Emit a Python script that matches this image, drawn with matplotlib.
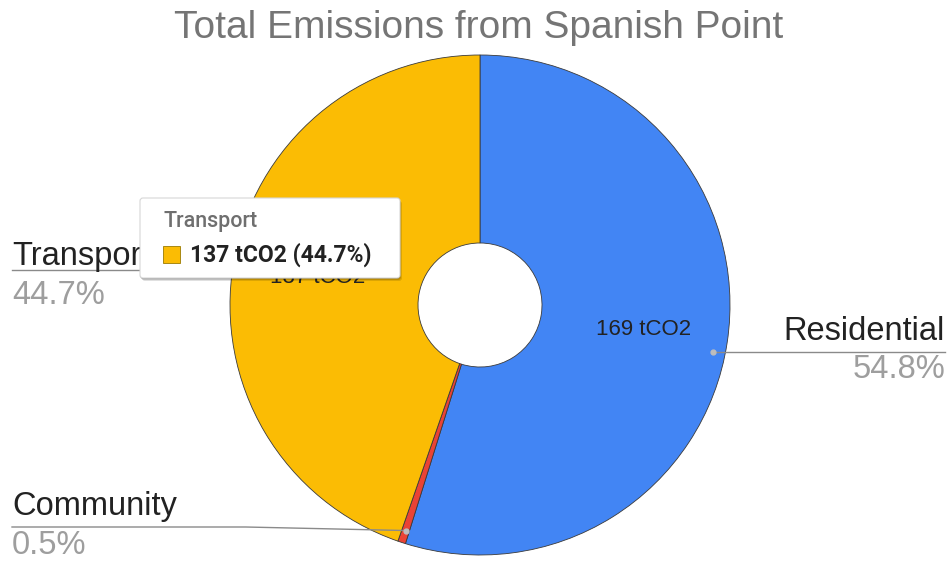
import numpy as np
import matplotlib.pyplot as plt
from matplotlib.patches import FancyBboxPatch, Rectangle

# emissions by sector, tCO2
labels = ['Residential', 'Community', 'Transport']
values = [168.6, 1.55, 137.4]
colors = ['#4285F4', '#EA4335', '#FBBC04']
unit = 'tCO2'
title = 'Total Emissions from Spanish Point'

W, H = 952, 564
fig = plt.figure(figsize=(W / 100, H / 100), dpi=100)
ax = fig.add_axes([0, 0, 1, 1])


def y(py):
    # pixel row -> data y
    return H - py


total = sum(values)
cx, cy, R = 480, y(305), 250

wedges, texts, autotexts = ax.pie(
    values, colors=colors, startangle=90, counterclock=False,
    center=(cx, cy), radius=R, frame=True,
    wedgeprops=dict(width=188, edgecolor='#3a3a3a', linewidth=0.6),
    autopct=lambda p: f'{p * total / 100:.0f} {unit}' if p > 5 else '',
    pctdistance=0.66,
    textprops=dict(fontsize=16, color='#222222', family='Liberation Sans'))

ax.set_xlim(0, W)
ax.set_ylim(0, H)
ax.set_aspect('equal')
ax.axis('off')

ax.text(479, y(28), title, ha='center', va='center', fontsize=28,
        color='#757575', family='Liberation Sans')

# outside labels: (name row, line row, pct row, side, straight leader)
layout = {
    'Residential': (331, 352, 370, 'right', True),
    'Transport': (257, 270, 296, 'left', True),
    'Community': (507, 527, 546, 'left', False),
}

start = 90.0
rd = 0.95 * R
for lab, val in zip(labels, values):
    sweep = val / total * 360
    mid = np.deg2rad(start - sweep / 2)
    start -= sweep
    ny, ly, py_, side, straight = layout[lab]
    if straight:
        # leader dot sits on the slice where the label line meets it
        dy = y(ly)
        dx = cx + np.sign(np.cos(mid)) * np.sqrt(rd ** 2 - (dy - cy) ** 2)
    else:
        dx, dy = cx + rd * np.cos(mid), cy + rd * np.sin(mid)
    if side == 'right':
        tx, ha = 945, 'right'
    else:
        tx, ha = 12, 'left'
    if straight:
        ax.plot([dx, tx], [dy, dy], color='#8a8a8a', lw=1, zorder=3)
    else:
        xs = [dx, dx - 160, tx]
        ax.plot(xs, [dy, y(ly), y(ly)], color='#8a8a8a', lw=1, zorder=3)
    ax.plot(dx, dy, 'o', ms=3.5, color='#bdbdbd', zorder=4)
    ax.text(tx, y(ny), lab, ha=ha, va='center', fontsize=23.5,
            color='#222222', family='Liberation Sans', zorder=3)
    ax.text(tx, y(py_), f'{val / total * 100:.1f}%', ha=ha, va='center',
            fontsize=23.5, color='#9e9e9e', family='Liberation Sans', zorder=3)

# hover tooltip on Transport
ti = labels.index('Transport')
bx, by, bw, bh = 140, y(278), 260, 80
for off, a in [(3, 0.12), (2, 0.15), (1, 0.2)]:
    ax.add_patch(FancyBboxPatch((bx + off - 1, by - off), bw, bh,
                                boxstyle='round,pad=0,rounding_size=3',
                                fc='#000000', ec='none', alpha=a, zorder=5))
ax.add_patch(FancyBboxPatch((bx, by), bw, bh,
                            boxstyle='round,pad=0,rounding_size=3',
                            fc='white', ec='#d6d6d6', lw=0.8, zorder=6))
ax.text(163, y(221), labels[ti], ha='left', va='center', fontsize=15.5,
        color='#6f6f6f', family='Roboto', fontweight='medium', zorder=7)
ax.add_patch(Rectangle((163, y(263)), 17, 17, fc=colors[ti],
                       ec='#9a7a00', lw=0.6, zorder=7))
ax.text(190, y(255), f'{values[ti]:.0f} {unit} ({values[ti] / total * 100:.1f}%)',
        ha='left', va='center', fontsize=16.5, color='#222222',
        family='Roboto', fontweight='bold', zorder=7)

fig.savefig('out.png', dpi=100, facecolor='white')
